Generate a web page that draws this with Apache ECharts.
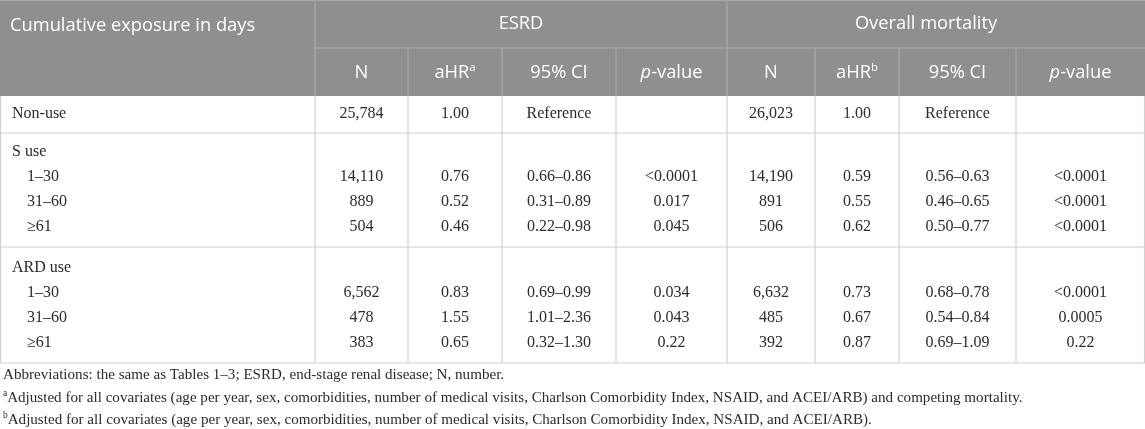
<!DOCTYPE html>
<html>
<head>
<meta charset="utf-8">
<script src="https://cdn.jsdelivr.net/npm/echarts@6/dist/echarts.min.js"></script>
<style>
html, body { margin: 0; padding: 0; background: #fff; }
#table { width: 1145px; height: 429px; }
</style>
</head>
<body>
<div id="table"></div>
<script>
// table content
var rowLabels = ['Non-use', 'S use', '1–30', '31–60', '≥61', 'ARD use', '1–30', '31–60', '≥61'];
var rowIndent = [0, 0, 1, 1, 1, 0, 1, 1, 1];
var esrdN   = ['25,784', '', '14,110', '889', '504', '', '6,562', '478', '383'];
var esrdHR  = ['1.00', '', '0.76', '0.52', '0.46', '', '0.83', '1.55', '0.65'];
var esrdCI  = ['Reference', '', '0.66–0.86', '0.31–0.89', '0.22–0.98', '', '0.69–0.99', '1.01–2.36', '0.32–1.30'];
var esrdP   = ['', '', '<0.0001', '0.017', '0.045', '', '0.034', '0.043', '0.22'];
var mortN   = ['26,023', '', '14,190', '891', '506', '', '6,632', '485', '392'];
var mortHR  = ['1.00', '', '0.59', '0.55', '0.62', '', '0.73', '0.67', '0.87'];
var mortCI  = ['Reference', '', '0.56–0.63', '0.46–0.65', '0.50–0.77', '', '0.68–0.78', '0.54–0.84', '0.69–1.09'];
var mortP   = ['', '', '<0.0001', '<0.0001', '<0.0001', '', '<0.0001', '0.0005', '0.22'];
var groupHeads = ['ESRD', 'Overall mortality'];
var subHeads = ['N', 'aHR{sup|a}', '95% CI', '{it|p}-value', 'N', 'aHR{sup|b}', '95% CI', '{it|p}-value'];
var footnotes = [
    'Abbreviations: the same as Tables 1–3; ESRD, end-stage renal disease; N, number.',
    '{sup|a}Adjusted for all covariates (age per year, sex, comorbidities, number of medical visits, Charlson Comorbidity Index, NSAID, and ACEI/ARB) and competing mortality.',
    '{sup|b}Adjusted for all covariates (age per year, sex, comorbidities, number of medical visits, Charlson Comorbidity Index, NSAID, and ACEI/ARB).'
];

// layout
var colEdges = [0, 315, 408, 502, 616, 727, 815, 899, 1016, 1145];
var headTop = 0, headMid = 48, headBottom = 96;
var groupX = [521, 926];
var rowY = [114, 152, 177, 202, 227, 268, 293, 318, 343];
var hLines = [133, 247, 363];
var footY = [375, 398, 420];

var headColor = '#8f8f8f', headLine = '#a9a9a9', bodyLine = '#d0d0d0';
var serif = '"Liberation Serif", "DejaVu Serif", serif';
var sans = '"Open Sans", "Noto Sans", sans-serif';

var valueCols = [esrdN, esrdHR, esrdCI, esrdP, mortN, mortHR, mortCI, mortP];
function colCenter(i) { return (colEdges[i] + colEdges[i + 1]) / 2; }

// cells: [x, y, text, kind]
var cells = [];
cells.push([10, 26, 'Cumulative exposure in days', 'headLeft']);
groupHeads.forEach(function (h, j) {
    cells.push([groupX[j], (headTop + headMid) / 2, h, 'head']);
});
subHeads.forEach(function (h, j) {
    cells.push([colCenter(j + 1), (headMid + headBottom) / 2 + 1, h, 'head']);
});
rowLabels.forEach(function (lab, r) {
    cells.push([rowIndent[r] ? 27 : 12, rowY[r], lab, 'label']);
    valueCols.forEach(function (col, j) {
        if (col[r]) cells.push([colCenter(j + 1), rowY[r], col[r], 'value']);
    });
});
footnotes.forEach(function (f, i) {
    cells.push([3, footY[i], f, 'foot']);
});

// frame lines: [x1, y1, x2, y2, color]
var lines = [];
lines.push([colEdges[1], headMid, colEdges[9], headMid, headLine]);
lines.push([0, headTop + 0.5, colEdges[9], headTop + 0.5, headLine]);
[1, 5].forEach(function (i) { lines.push([colEdges[i], headTop, colEdges[i], headBottom, headLine]); });
[2, 3, 4, 6, 7, 8].forEach(function (i) { lines.push([colEdges[i], headMid, colEdges[i], headBottom, headLine]); });
for (var i = 0; i < colEdges.length; i++) {
    var x = i === 0 ? 0.5 : (i === colEdges.length - 1 ? colEdges[i] - 0.5 : colEdges[i]);
    lines.push([x, headBottom, x, hLines[hLines.length - 1], bodyLine]);
}
hLines.forEach(function (y) { lines.push([0, y, colEdges[9], y, bodyLine]); });

var styles = {
    headLeft: { font: sans, size: 18.3, color: '#fff', align: 'left' },
    head: { font: sans, size: 18.3, color: '#fff', align: 'center' },
    label: { font: serif, size: 16, color: '#2b2b2b', align: 'left' },
    value: { font: serif, size: 16, color: '#2b2b2b', align: 'center' },
    foot: { font: serif, size: 15.1, color: '#2b2b2b', align: 'left' }
};

var chart = echarts.init(document.getElementById('table'), null, { renderer: 'canvas' });
chart.setOption({
    animation: false,
    grid: { left: 0, right: 0, top: 0, bottom: 0 },
    xAxis: { type: 'value', min: 0, max: 1145, show: false },
    yAxis: { type: 'value', min: 0, max: 429, inverse: true, show: false },
    series: [
        {
            type: 'custom',
            data: [[0]],
            silent: true,
            z: 1,
            renderItem: function (params, api) {
                var p0 = api.coord([0, headTop]);
                var p1 = api.coord([colEdges[9], headBottom]);
                return {
                    type: 'rect',
                    shape: { x: p0[0], y: p0[1], width: p1[0] - p0[0], height: p1[1] - p0[1] },
                    style: { fill: headColor }
                };
            }
        },
        {
            type: 'custom',
            data: lines,
            silent: true,
            z: 2,
            renderItem: function (params, api) {
                var a = api.coord([api.value(0), api.value(1)]);
                var b = api.coord([api.value(2), api.value(3)]);
                return {
                    type: 'line',
                    shape: { x1: a[0], y1: a[1], x2: b[0], y2: b[1] },
                    style: { stroke: lines[params.dataIndex][4], lineWidth: 1.2 }
                };
            }
        },
        {
            type: 'custom',
            data: cells,
            silent: true,
            z: 3,
            renderItem: function (params, api) {
                var c = cells[params.dataIndex];
                var s = styles[c[3]];
                var p = api.coord([c[0], c[1]]);
                return {
                    type: 'text',
                    x: p[0],
                    y: p[1],
                    style: {
                        text: c[2],
                        fontFamily: s.font,
                        fontSize: s.size,
                        fill: s.color,
                        align: s.align,
                        verticalAlign: 'middle',
                        rich: {
                            sup: { fontFamily: s.font, fontSize: s.size * 0.62, fill: s.color, padding: [0, 0, s.size * 0.55, 0] },
                            it: { fontFamily: s.font, fontSize: s.size, fill: s.color, fontStyle: 'italic' }
                        }
                    }
                };
            }
        }
    ]
});
</script>
</body>
</html>
